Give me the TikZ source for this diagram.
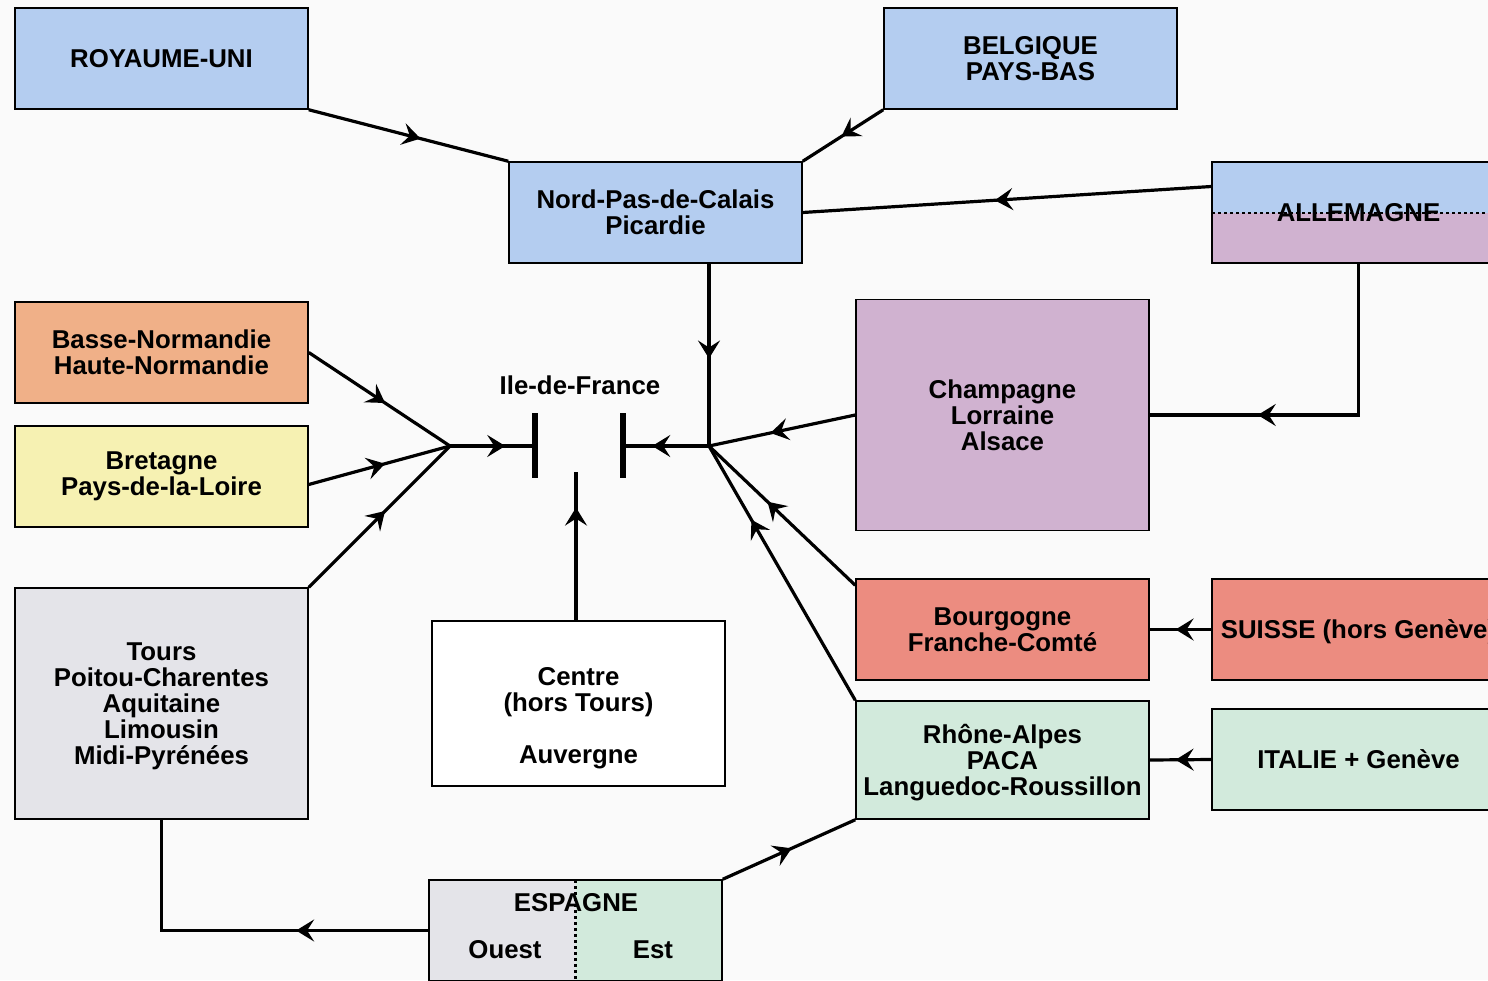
\documentclass[tikz,border=0pt]{standalone}
\usepackage{fontspec}
\setmainfont{Liberation Sans}
\usepackage{xcolor}
\usepackage{tikz}
\usetikzlibrary{arrows.meta}
\usetikzlibrary{decorations.markings}
\definecolor{paysbleu}{RGB}{180,205,240}
\definecolor{paysorange}{RGB}{240,176,136}
\definecolor{paysjaune}{RGB}{246,241,178}
\definecolor{paysgris}{RGB}{228,228,233}
\definecolor{paysviolet}{RGB}{208,178,208}
\definecolor{payssaumon}{RGB}{236,140,128}
\definecolor{paysvert}{RGB}{210,234,220}
\tikzstyle{regnode}=[black, draw=black, line width=1.5pt, shape=rectangle, minimum width=293pt, minimum height=101pt, inner sep=0pt, align=center, font=\fontsize{25.8}{26}\selectfont\bfseries]
\tikzstyle{txtnode}=[black, inner sep=0pt, align=center, font=\fontsize{25.8}{26}\selectfont\bfseries]
\tikzstyle{flow}=[line width=3.2pt, color=black]
\tikzstyle{barline}=[line width=6.5pt, color=black]
\tikzset{midarrow/.style={postaction={decorate}, decoration={markings, mark=at position #1 with {\arrow{Stealth[length=18pt, width=22pt, inset=7pt]}}}}}

\begin{document}
\begin{tikzpicture}[x=1pt, y=-1pt]
\clip (0,0) rectangle (1488,980);
\fill [white!98!black] (0,0) rectangle (1488,980);

% pays et regions
\node [regnode, fill=paysbleu] (royaume) at (161.5,58.5) {ROYAUME-UNI};
\node [regnode, fill=paysbleu] (belgique) at (1030.5,58.5) {BELGIQUE\\PAYS-BAS};
\node [regnode, fill=paysbleu] (nord) at (655.5,212.5) {Nord-Pas-de-Calais\\Picardie};
\node [regnode, path picture={
  \fill [paysbleu] (path picture bounding box.north west) rectangle (path picture bounding box.east);
  \fill [paysviolet] (path picture bounding box.west) rectangle (path picture bounding box.south east);
  \draw [line width=2pt, dash pattern=on 3pt off 3pt] (path picture bounding box.west) -- (path picture bounding box.east);}] (allemagne) at (1358.5,212.5) {ALLEMAGNE};
\node [regnode, fill=paysorange] (normandie) at (161.5,352.5) {Basse-Normandie\\Haute-Normandie};
\node [regnode, fill=paysjaune] (bretagne) at (161.5,476.5) {Bretagne\\Pays-de-la-Loire};
\node [regnode, fill=paysgris, minimum height=231pt, text depth=0pt] (tours) at (161.5,703.5) {Tours\\Poitou-Charentes\\Aquitaine\\Limousin\\Midi-Pyrénées};
\node [regnode, fill=white, minimum height=165pt] (centre) at (578.5,703.5) {};
\node [txtnode] (centretxt) at (578.5,718.5) {Centre\\(hors Tours)\\[26pt]Auvergne};
\node [regnode, fill=paysviolet, minimum height=231pt] (champagne) at (1002.5,415) {Champagne\\Lorraine\\Alsace};
\node [regnode, fill=payssaumon] (bourgogne) at (1002.5,629.5) {Bourgogne\\Franche-Comté};
\node [regnode, fill=payssaumon, text depth=0pt] (suisse) at (1358.5,629.5) {SUISSE (hors Genève)};
\node [regnode, fill=paysvert, minimum height=118pt, text depth=0pt] (rhone) at (1002.5,760) {Rhône-Alpes\\PACA\\Languedoc-Roussillon};
\node [regnode, fill=paysvert] (italie) at (1358.5,759.5) {ITALIE + Genève};
\node [regnode, path picture={
  \fill [paysgris] (path picture bounding box.north west) rectangle (path picture bounding box.south);
  \fill [paysvert] (path picture bounding box.north) rectangle (path picture bounding box.south east);
  \draw [line width=2.5pt, dash pattern=on 3pt off 3pt] (path picture bounding box.north) -- (path picture bounding box.south);}] (espagne) at (575.5,930.5) {};
\node [txtnode] (espagnetxt) at (576,903) {ESPAGNE};
\node [txtnode] (ouest) at (505,950) {Ouest};
\node [txtnode] (est) at (653,950) {Est};

% Ile-de-France
\node [txtnode] (idf) at (580,385) {Ile-de-France};
\coordinate (barW) at (535,446);
\coordinate (barE) at (623,446);
\coordinate (jW) at (450,446);
\coordinate (jE) at (709,446);
\coordinate (cEnd) at (576,472);
\draw [barline] ([yshift=33pt]barW) -- ([yshift=-32pt]barW);
\draw [barline] ([yshift=33pt]barE) -- ([yshift=-32pt]barE);

% flux
\draw [flow, midarrow=0.56] (royaume.south east) -- (nord.north west);
\draw [flow, midarrow=0.52] (belgique.south west) -- (nord.north east);
\draw [flow, midarrow=0.53] ([yshift=26pt]allemagne.west) -- (nord.east);
\draw [flow, midarrow=0.52] (nord.south -| jE) -- (jE);
\draw [flow, midarrow=0.7] (allemagne.south) |- (champagne.east);
\draw [flow, midarrow=0.58] (champagne.west) -- (jE);
\draw [flow, midarrow=0.6] ([yshift=-7pt]bourgogne.north west) -- (jE);
\draw [flow, midarrow=0.71] (rhone.north west) -- (jE);
\draw [flow, midarrow=0.66] (jE) -- (barE);
\draw [flow, midarrow=0.54] (normandie.east) -- (jW);
\draw [flow, midarrow=0.54] ([yshift=-8pt]bretagne.east) -- (jW);
\draw [flow, midarrow=0.54] (tours.north east) -- (jW);
\draw [flow, midarrow=0.65] (jW) -- (barW);
\draw [flow, midarrow=0.76] (centre.north -| cEnd) -- (cEnd);
\draw [flow, midarrow=0.58] (suisse.west) -- (bourgogne.east);
\draw [flow, midarrow=0.58] (italie.west) -- (rhone.east);
\draw [flow, midarrow=0.35] (espagne.west) -| (tours.south);
\draw [flow, midarrow=0.52] (espagne.north east) -- (rhone.south west);
\end{tikzpicture}
\end{document}
